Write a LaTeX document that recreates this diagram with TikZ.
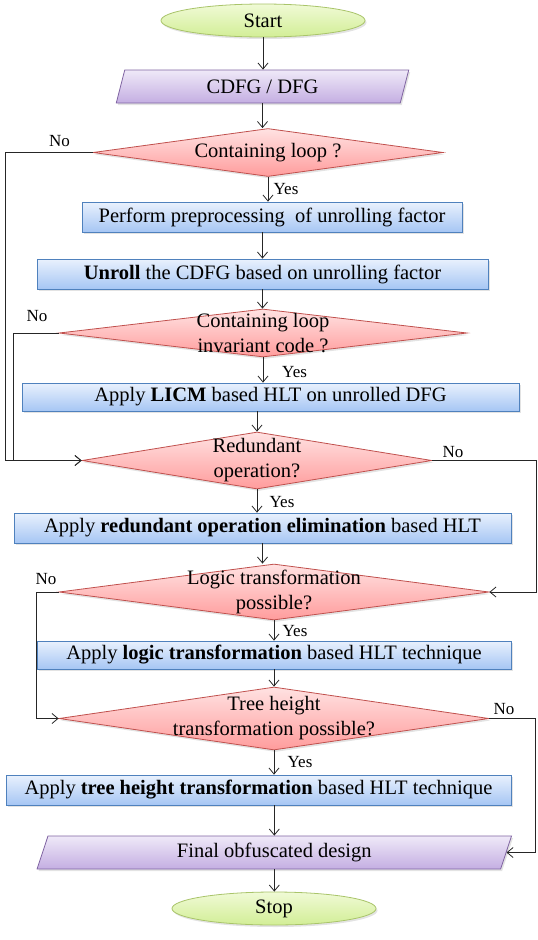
\documentclass[tikz,border=0pt]{standalone}
\usepackage{fontspec}
\setmainfont{LiberationSerif}[Extension=.ttf, UprightFont=*-Regular, BoldFont=*-Bold, ItalicFont=*-Italic, BoldItalicFont=*-BoldItalic]
\usetikzlibrary{shapes.geometric,shadows,arrows.meta,calc}
\definecolor{termdraw}{HTML}{A9C46A}
\definecolor{termtop}{HTML}{F0FAD6}
\definecolor{termbot}{HTML}{D2EE96}
\definecolor{iodraw}{HTML}{8064A2}
\definecolor{iotop}{HTML}{EFE9F8}
\definecolor{iobot}{HTML}{C4AEE2}
\definecolor{procdraw}{HTML}{4F81BD}
\definecolor{proctop}{HTML}{E9F1FD}
\definecolor{procbot}{HTML}{A6C6F4}
\definecolor{decdraw}{HTML}{C0504D}
\definecolor{dectop}{HTML}{FFE2E2}
\definecolor{decbot}{HTML}{FF9C9C}
\begin{document}
\begin{tikzpicture}[x=1pt,y=-1pt,
  base/.style={font=\fontsize{20.5}{25}\selectfont, inner sep=0pt, line width=0.8pt},
  shad/.style={drop shadow={shadow xshift=1.5pt,shadow yshift=-2pt,opacity=0.22}},
  term/.style={base, ellipse, draw=termdraw, top color=termtop, bottom color=termbot, shad},
  iobox/.style={base, trapezium, trapezium left angle=76, trapezium right angle=104, trapezium stretches=true, draw=iodraw, top color=iotop, bottom color=iobot, shad},
  procbox/.style={base, rectangle, draw=procdraw, top color=proctop, bottom color=procbot, shad},
  decis/.style={base, diamond, draw=decdraw, top color=dectop, bottom color=decbot, shad},
  dtext/.style={font=\fontsize{20.5}{25}\selectfont, align=center, inner sep=0pt},
  lbl/.style={font=\fontsize{17}{20}\selectfont, inner sep=0pt},
  arr/.style={draw=black!85, line width=0.8pt, -{Straight Barb[length=6pt,width=10pt]}}
]
\useasboundingbox (0,0) rectangle (538,940);

% nodes
\node[term, minimum width=204pt, minimum height=33pt] (start) at (263,20.5) {Start};
\node[iobox, minimum width=293pt, minimum height=33pt] (io1) at (262.5,86.5) {CDFG / DFG};
\node[decis, minimum width=350pt, minimum height=48pt] (d1) at (268,152.5) {};
\node[dtext] (d1t) at (d1.center) {Containing loop ?};
\node[procbox, minimum width=380pt, minimum height=30pt] (b1) at (272,217) {Perform preprocessing \ of unrolling factor};
\node[procbox, minimum width=451pt, minimum height=30pt] (b2) at (262.5,274) {\textbf{Unroll} the CDFG based on unrolling factor};
\node[decis, minimum width=408pt, minimum height=48pt] (d2) at (263,333) {};
\node[dtext] (d2t) at (d2.center) {Containing loop\\invariant code ?};
\node[procbox, minimum width=497pt, minimum height=28pt] (b3) at (270.5,397) {Apply \textbf{LICM} based HLT on unrolled DFG};
\node[decis, minimum width=350pt, minimum height=57pt] (d3) at (257,460.5) {};
\node[dtext] (d3t) at (d3.center) {Redundant\\operation?};
\node[procbox, minimum width=497pt, minimum height=30pt] (b4) at (262.5,528) {Apply \textbf{redundant operation elimination} based HLT};
\node[decis, minimum width=430pt, minimum height=56pt] (d4) at (274,592) {};
\node[dtext] (d4t) at (d4.center) {Logic transformation\\possible?};
\node[procbox, minimum width=474pt, minimum height=28pt] (b5) at (274,655) {Apply \textbf{logic transformation} based HLT technique};
\node[decis, minimum width=430pt, minimum height=63pt] (d5) at (274,718.5) {};
\node[dtext] (d5t) at (d5.center) {Tree height\\transformation possible?};
\node[procbox, minimum width=505pt, minimum height=30pt] (b6) at (258.5,790) {Apply \textbf{tree height transformation} based HLT technique};
\node[iobox, minimum width=474.6pt, minimum height=33pt] (io2) at (274.3,852.5) {Final obfuscated design};
\node[term, minimum width=204pt, minimum height=33pt] (stop) at (274,908.5) {Stop};

% branch labels
\node[lbl] (no1) at (59.5,141) {No};
\node[lbl] (yes1) at (286,189) {Yes};
\node[lbl] (no2) at (37,316) {No};
\node[lbl] (yes2) at (294.6,372) {Yes};
\node[lbl] (no3) at (453,452) {No};
\node[lbl] (yes3) at (282,502) {Yes};
\node[lbl] (no4) at (46,579) {No};
\node[lbl] (yes4) at (295,631) {Yes};
\node[lbl] (no5) at (504,709) {No};
\node[lbl] (yes5) at (300,762) {Yes};

% rails
\coordinate (xa) at (5,0);
\coordinate (xb) at (13,0);
\coordinate (xc) at (536,0);
\coordinate (xd) at (36,0);
\coordinate (xe) at (535,0);

% main flow
\draw[arr] (start.south) -- (start.south |- io1.north);
\draw[arr] (io1.center |- io1.south) -- (io1.center |- d1.north);
\draw[arr] (d1.south) -- (d1.south |- b1.north);
\draw[arr] (b2.north |- b1.south) -- (b2.north);
\draw[arr] (b2.south) -- (b2.south |- d2.north);
\draw[arr] (d2.south) -- (d2.south |- b3.north);
\draw[arr] (d3.north |- b3.south) -- (d3.north);
\draw[arr] (d3.south) -- (d3.south |- b4.north);
\draw[arr] (b4.south) -- (b4.south |- d4.north);
\draw[arr] (d4.south) -- (d4.south |- b5.north);
\draw[arr] (b5.south) -- (b5.south |- d5.north);
\draw[arr] (d5.south) -- (d5.south |- b6.north);
\draw[arr] (io2.center |- b6.south) -- (io2.center |- io2.north);
\draw[arr] (io2.center |- io2.south) -- (io2.center |- stop.north);

% "No" branches
\draw[arr] (d1.west) -| (xa |- d3.west) -- (d3.west);
\draw[arr] (d2.west) -| (xb |- d3.west) -- (d3.west);
\draw[arr] (d3.east) -| (xc |- d4.east) -- (d4.east);
\draw[arr] (d4.west) -| (xd |- d5.west) -- (d5.west);
\draw[arr] (d5.east) -| (xe |- io2.east) -- (io2.east);
\end{tikzpicture}
\end{document}
